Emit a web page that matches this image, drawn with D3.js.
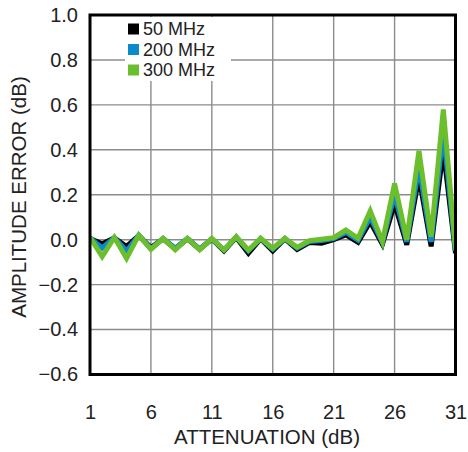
<!DOCTYPE html>
<html><head><meta charset="utf-8">
<script src="https://cdn.jsdelivr.net/npm/d3@7"></script>
<style>html,body{margin:0;padding:0;background:#fff;}</style>
</head><body>
<script>
const attenuation = d3.range(1, 32);
const mhz50  = [0.005,-0.018,0.008,-0.03,0.018,-0.035,0.004,-0.04,0.004,-0.042,0.003,-0.05,0.01,-0.06,0.004,-0.05,0.004,-0.043,-0.013,-0.016,0.0,0.021,-0.012,0.08,-0.02,0.16,-0.023,0.28,-0.03,0.40,-0.06];
const mhz200 = [0.008,-0.037,0.01,-0.05,0.02,-0.04,0.005,-0.038,0.005,-0.042,0.004,-0.046,0.012,-0.05,0.005,-0.042,0.005,-0.037,-0.008,-0.004,0.005,0.032,-0.002,0.10,-0.012,0.20,-0.01,0.325,-0.01,0.48,-0.05];
const mhz300 = [0.01,-0.075,0.01,-0.083,0.02,-0.043,0.006,-0.045,0.006,-0.045,0.006,-0.046,0.013,-0.046,0.006,-0.038,0.006,-0.034,-0.004,0.002,0.009,0.043,0.006,0.128,-0.009,0.25,0.0,0.395,0.013,0.58,-0.04];
const seriesNames = ["50 MHz","200 MHz","300 MHz"];
const seriesColors = ["#000000","#0b8bcb","#6cbf2c"];
const xTicks = [1,6,11,16,21,26,31];
const yTicks = [-0.6,-0.4,-0.2,0.0,0.2,0.4,0.6,0.8,1.0];

const W = 468, H = 452;
const m = {left: 90, right: 12.5, top: 15, bottom: 77.5};
const FONT = "'Liberation Sans', Arial, sans-serif";
const svg = d3.select("body").append("svg").attr("width", W).attr("height", H)
  .style("font-family", FONT);

const x = d3.scaleLinear().domain([1,31]).range([m.left, W - m.right]);
const y = d3.scaleLinear().domain([-0.6,1.0]).range([H - m.bottom, m.top]);

// grid
const g = svg.append("g");
g.selectAll("line.v").data(xTicks.slice(1,-1)).join("line")
  .attr("x1", d => x(d)).attr("x2", d => x(d)).attr("y1", y(1)).attr("y2", y(-0.6))
  .attr("stroke", "#8c8c8c").attr("stroke-width", 1.4);
g.selectAll("line.h").data(yTicks.slice(1,-1)).join("line")
  .attr("y1", d => y(d)).attr("y2", d => y(d)).attr("x1", x(1)).attr("x2", x(31))
  .attr("stroke", "#8c8c8c").attr("stroke-width", 1.4);

// clip
svg.append("clipPath").attr("id","clip").append("rect")
  .attr("x", x(1)).attr("y", y(1)).attr("width", x(31)-x(1)).attr("height", y(-0.6)-y(1));

const line = d3.line().x((d,i) => x(attenuation[i])).y(d => y(d));
const lg = svg.append("g").attr("clip-path","url(#clip)");
[mhz50, mhz200, mhz300].forEach((s,i) => {
  lg.append("path").datum(s).attr("d", line).attr("fill","none")
    .attr("stroke", seriesColors[i]).attr("stroke-width", 5)
    .attr("stroke-linejoin","miter").attr("stroke-miterlimit", 4);
});

// legend
const leg = svg.append("g");
leg.append("rect").attr("x", 125).attr("y", 17).attr("width", 106).attr("height", 64).attr("fill","#fff");
seriesNames.forEach((n,i) => {
  const cy = 29 + i*20.5;
  leg.append("rect").attr("x", 128).attr("y", cy-5.5).attr("width", 11).attr("height", 11).attr("fill", seriesColors[i]);
  leg.append("text").attr("x", 143).attr("y", cy).attr("dy","0.35em")
    .attr("font-size", 18).attr("fill","#222").text(n);
});

// border
svg.append("rect").attr("x", x(1)).attr("y", y(1)).attr("width", x(31)-x(1)).attr("height", y(-0.6)-y(1))
  .attr("fill","none").attr("stroke","#000").attr("stroke-width", 3);

// axes labels
const xAxis = d3.axisBottom(x).tickValues(xTicks).tickSize(0).tickPadding(30).tickFormat(d3.format("d"));
const xa = svg.append("g").attr("transform", `translate(0,${y(-0.6)})`).call(xAxis);
xa.select(".domain").remove();
xa.selectAll("text").attr("font-size", 20).attr("fill","#222").attr("font-family", FONT);

const yAxis = d3.axisLeft(y).tickValues(yTicks).tickSize(0).tickPadding(12).tickFormat(d3.format(".1f"));
const ya = svg.append("g").attr("transform", `translate(${x(1)},0)`).call(yAxis);
ya.select(".domain").remove();
ya.selectAll("text").attr("font-size", 20).attr("fill","#222").attr("font-family", FONT);

svg.append("text").attr("x", 267).attr("y", 437).attr("dy","0.35em").attr("text-anchor","middle")
  .attr("font-size", 20.5).attr("fill","#222").text("ATTENUATION (dB)");
svg.append("text").attr("transform","translate(19,197) rotate(-90)").attr("dy","0.35em").attr("text-anchor","middle")
  .attr("font-size", 20.5).attr("fill","#222").text("AMPLITUDE ERROR (dB)");
</script>
</body></html>
